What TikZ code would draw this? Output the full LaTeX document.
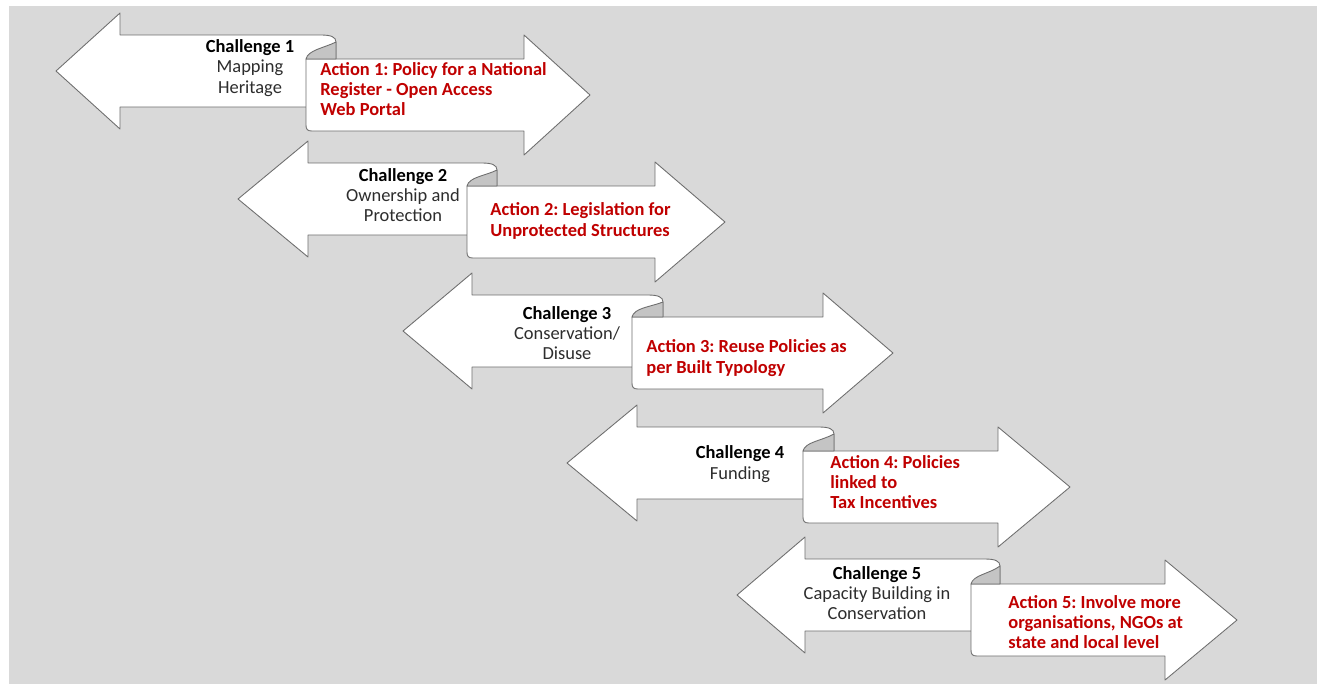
\documentclass[tikz,border=0pt]{standalone}
\usepackage{fontspec}
\setmainfont{Carlito}
\frenchspacing
\definecolor{bggray}{RGB}{217,217,217}
\definecolor{rollgray}{RGB}{196,196,196}
\definecolor{edgegray}{RGB}{110,110,110}
\definecolor{actionred}{RGB}{192,0,0}
\definecolor{textgray}{RGB}{45,45,45}
\tikzset{
  arrowbody/.style={fill=white, draw=edgegray, line width=0.5pt, line join=round},
  rollpart/.style={fill=rollgray, draw=edgegray, line width=0.5pt, line join=round},
  challenge/.style={align=center, inner sep=0pt, text=textgray,
    font=\fontsize{10.5}{11.6}\selectfont},
  action/.style={align=left, anchor=west, inner sep=0pt, text=actionred,
    font=\fontsize{10.5}{11.6}\selectfont\bfseries}
}
\begin{document}
\begin{tikzpicture}[x=0.02cm,y=-0.02cm]
            \useasboundingbox (0,0) rectangle (1317,684);
            \fill[bggray] (9,6) rectangle (1317,684);
            \draw[arrowbody] (56,71) -- (120,13) -- (120,35) -- (321,35) .. controls (331,35) and (336,37) .. (336,42) -- (336,107) -- (120,107) -- (120,129) -- cycle;
            \draw[arrowbody] (306,59) -- (524,59) -- (524,35) -- (590,95) -- (524,155) -- (524,131) -- (312,131) .. controls (307,131) and (306,129) .. (306,125) -- cycle;
            \draw[rollpart] (306,59) .. controls (308,50) and (324,48) .. (336,42) -- (336,59) -- cycle;
            \draw[arrowbody] (238,199) -- (308,141) -- (308,163) -- (482,163) .. controls (492,163) and (497,165) .. (497,170) -- (497,235) -- (308,235) -- (308,257) -- cycle;
            \draw[arrowbody] (467,186) -- (655,186) -- (655,162) -- (725,222) -- (655,282) -- (655,258) -- (473,258) .. controls (468,258) and (467,256) .. (467,252) -- cycle;
            \draw[rollpart] (467,186) .. controls (469,177) and (485,176) .. (497,170) -- (497,186) -- cycle;
            \draw[arrowbody] (403,331) -- (472,273) -- (472,295) -- (648,295) .. controls (658,295) and (663,297) .. (663,302) -- (663,367) -- (472,367) -- (472,389) -- cycle;
            \draw[arrowbody] (632,317) -- (823,317) -- (823,293) -- (893,353) -- (823,413) -- (823,389) -- (638,389) .. controls (633,389) and (632,387) .. (632,383) -- cycle;
            \draw[rollpart] (632,317) .. controls (634,308) and (650,307) .. (663,302) -- (663,317) -- cycle;
            \draw[arrowbody] (567,463) -- (637,405) -- (637,427) -- (819,427) .. controls (829,427) and (834,429) .. (834,434) -- (834,499) -- (637,499) -- (637,521) -- cycle;
            \draw[arrowbody] (803,451) -- (998,451) -- (998,427) -- (1070,487) -- (998,547) -- (998,523) -- (809,523) .. controls (804,523) and (803,521) .. (803,517) -- cycle;
            \draw[rollpart] (803,451) .. controls (805,442) and (821,441) .. (834,434) -- (834,451) -- cycle;
            \draw[arrowbody] (737,595) -- (805,537) -- (805,559) -- (985,559) .. controls (995,559) and (1000,561) .. (1000,566) -- (1000,631) -- (805,631) -- (805,653) -- cycle;
            \draw[arrowbody] (971,584) -- (1165,584) -- (1165,560) -- (1237,620) -- (1165,680) -- (1165,656) -- (977,656) .. controls (972,656) and (971,654) .. (971,650) -- cycle;
            \draw[rollpart] (971,584) .. controls (973,575) and (989,574) .. (1000,566) -- (1000,584) -- cycle;
            \node[challenge] (ch1) at (250,68) {\textcolor{black}{\textbf{Challenge 1}}\\Mapping\\Heritage};
            \node[challenge] (ch2) at (403,195) {\textcolor{black}{\textbf{Challenge 2}}\\Ownership and\\Protection};
            \node[challenge] (ch3) at (567,333) {\textcolor{black}{\textbf{Challenge 3}}\\Conservation/\\Disuse};
            \node[challenge] (ch4) at (740,464) {\textcolor{black}{\textbf{Challenge 4}}\\Funding};
            \node[challenge] (ch5) at (877,593) {\textcolor{black}{\textbf{Challenge 5}}\\Capacity Building in\\Conservation};
            \node[action] (act1) at (320,89) {Action 1: Policy for a National\\Register - Open Access\\Web Portal};
            \node[action] (act2) at (490,221) {Action 2: Legislation for\\Unprotected Structures};
            \node[action] (act3) at (646,358) {Action 3: Reuse Policies as\\per Built Typology};
            \node[action] (act4) at (830,482) {Action 4: Policies\\linked to\\Tax Incentives};
            \node[action] (act5) at (1008,622) {Action 5: Involve more\\organisations, NGOs at\\state and local level};
         \end{tikzpicture}
\end{document}
